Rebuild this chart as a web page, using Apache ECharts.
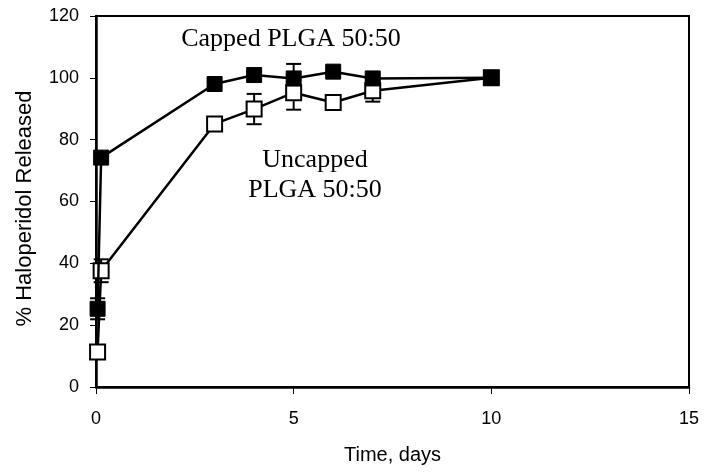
<!DOCTYPE html>
<html>
<head>
<meta charset="utf-8">
<script src="https://cdn.jsdelivr.net/npm/echarts@6/dist/echarts.min.js"></script>
<style>
  html, body { margin: 0; padding: 0; background: #fff; }
  #chart { width: 704px; height: 476px; }
</style>
</head>
<body>
<div id="chart"></div>
<script>
// time points (days)
var cappedTime = [0.04, 0.13, 3, 4, 5, 6, 7, 10];
var cappedVal = [25.3, 74.2, 98, 100.9, 99.8, 102, 99.8, 100];
var cappedErr = [3.4, 1, 1, 1, 4.7, 1, 1, 0];

var uncappedTime = [0.04, 0.13, 3, 4, 5, 6, 7, 10];
var uncappedVal = [11.3, 37.6, 85.1, 89.9, 95.2, 92, 95.8, 100];
var uncappedErr = [1, 3.7, 1, 4.9, 5.5, 1, 3.5, 0];

var xTicks = [0, 5, 10, 15];
var yTicks = [0, 20, 40, 60, 80, 100, 120];

function pairs(t, v) {
  return t.map(function (x, i) { return [x, v[i]]; });
}
function errData(t, v, e) {
  return t.map(function (x, i) { return [x, v[i] - e[i], v[i] + e[i]]; });
}

function errRender(params, api) {
  var x = api.value(0);
  var lo = api.coord([x, api.value(1)]);
  var hi = api.coord([x, api.value(2)]);
  var w = 7.5;
  var st = { stroke: '#000', lineWidth: 2 };
  return {
    type: 'group',
    children: [
      { type: 'line', shape: { x1: lo[0], y1: lo[1], x2: hi[0], y2: hi[1] }, style: st },
      { type: 'line', shape: { x1: lo[0] - w, y1: lo[1], x2: lo[0] + w, y2: lo[1] }, style: st },
      { type: 'line', shape: { x1: hi[0] - w, y1: hi[1], x2: hi[0] + w, y2: hi[1] }, style: st }
    ]
  };
}

var myChart = echarts.init(document.getElementById('chart'));

var option = {
  animation: false,
  backgroundColor: '#fff',
  grid: {
    left: 96, right: 15, top: 16, bottom: 89,
    show: true, borderColor: '#000', borderWidth: 2
  },
  xAxis: {
    type: 'value',
    min: 0, max: 15, interval: 5,
    name: 'Time, days',
    nameLocation: 'middle',
    nameGap: 58,
    nameTextStyle: { fontFamily: 'Liberation Sans', fontSize: 20, color: '#000' },
    axisLine: { onZero: false, lineStyle: { color: '#000', width: 2.5 } },
    axisTick: { show: true, length: 7, lineStyle: { color: '#000', width: 1 } },
    axisLabel: {
      margin: 23, fontFamily: 'Liberation Sans', fontSize: 18, color: '#000',
      formatter: function (v) { return xTicks.indexOf(v) >= 0 ? String(v) : ''; }
    },
    splitLine: { show: false }
  },
  yAxis: {
    type: 'value',
    min: 0, max: 120, interval: 20,
    name: '% Haloperidol Released',
    nameLocation: 'middle',
    nameGap: 60,
    nameTextStyle: {
      fontFamily: 'Liberation Sans', fontSize: 22, color: '#000',
      padding: [0, 14, 0, 0]
    },
    axisLine: { onZero: false, lineStyle: { color: '#000', width: 2.5 } },
    axisTick: { show: true, length: 6, lineStyle: { color: '#000', width: 1 } },
    axisLabel: {
      margin: 17, fontFamily: 'Liberation Sans', fontSize: 18, color: '#000',
      formatter: function (v) { return yTicks.indexOf(v) >= 0 ? String(v) : ''; }
    },
    splitLine: { show: false }
  },
  series: [
    {
      type: 'custom', name: 'capped err',
      renderItem: errRender,
      data: errData(cappedTime, cappedVal, cappedErr),
      z: 1
    },
    {
      type: 'custom', name: 'uncapped err',
      renderItem: errRender,
      data: errData(uncappedTime, uncappedVal, uncappedErr),
      z: 1
    },
    {
      type: 'line', name: 'Uncapped PLGA 50:50',
      data: pairs(uncappedTime, uncappedVal),
      symbol: 'rect', symbolSize: 15,
      lineStyle: { color: '#000', width: 2.5 },
      itemStyle: { color: '#fff', borderColor: '#000', borderWidth: 2 },
      z: 3
    },
    {
      type: 'line', name: 'Capped PLGA 50:50',
      data: pairs(cappedTime, cappedVal),
      symbol: 'rect', symbolSize: 15,
      lineStyle: { color: '#000', width: 2.5 },
      itemStyle: { color: '#000', borderColor: '#000', borderWidth: 1 },
      z: 4
    }
  ],
  graphic: [
    {
      type: 'text', x: 291, y: 39,
      style: { text: 'Capped PLGA 50:50', font: '26px "Liberation Serif"', fill: '#000', align: 'center', verticalAlign: 'middle' }
    },
    {
      type: 'text', x: 315, y: 160,
      style: { text: 'Uncapped', font: '26px "Liberation Serif"', fill: '#000', align: 'center', verticalAlign: 'middle' }
    },
    {
      type: 'text', x: 315, y: 190,
      style: { text: 'PLGA 50:50', font: '26px "Liberation Serif"', fill: '#000', align: 'center', verticalAlign: 'middle' }
    }
  ]
};

myChart.setOption(option, true);
</script>
</body>
</html>
